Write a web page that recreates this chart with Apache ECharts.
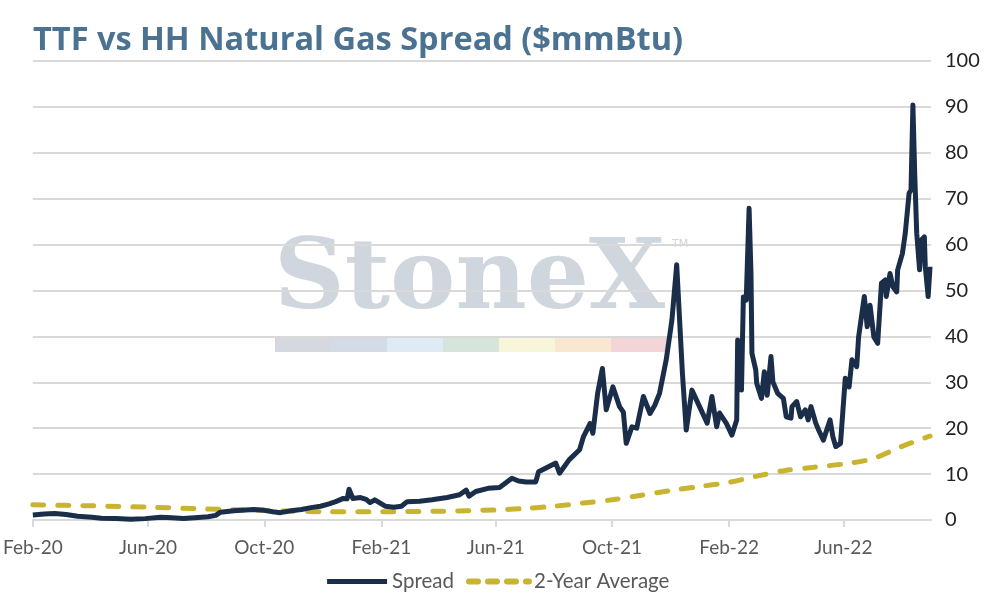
<!DOCTYPE html>
<html>
<head>
<meta charset="utf-8">
<script src="https://cdn.jsdelivr.net/npm/echarts@6/dist/echarts.min.js"></script>
<style>
html,body{margin:0;padding:0;background:#fff;}
#chart{width:994px;height:600px;}
</style>
</head>
<body>
<div id="chart"></div>
<script>
var titleText = 'TTF vs HH Natural Gas Spread ($mmBtu)';
var seriesNames = ['Spread', '2-Year Average'];
var xTickDates = ['2020-02-01','2020-06-01','2020-10-01','2021-02-01','2021-06-01','2021-10-01','2022-02-01','2022-06-01'];
var xTickLabels = ['Feb-20','Jun-20','Oct-20','Feb-21','Jun-21','Oct-21','Feb-22','Jun-22'];
var yTicks = [0,10,20,30,40,50,60,70,80,90,100];

var spreadData = [
['2020-02-01',1.1],['2020-02-13',1.3],['2020-02-24',1.4],['2020-03-07',1.2],['2020-03-19',0.8],
['2020-04-03',0.6],['2020-04-13',0.4],['2020-04-28',0.3],['2020-05-14',0.15],['2020-05-29',0.3],
['2020-06-14',0.6],['2020-06-26',0.5],['2020-07-08',0.35],['2020-07-20',0.5],['2020-08-03',0.7],
['2020-08-11',1.0],['2020-08-16',1.7],['2020-08-30',2.0],['2020-09-07',2.1],['2020-09-20',2.3],
['2020-10-01',2.1],['2020-10-10',1.8],['2020-10-18',1.6],['2020-10-29',2.0],['2020-11-09',2.3],
['2020-11-19',2.7],['2020-11-29',3.0],['2020-12-08',3.5],['2020-12-15',4.0],['2020-12-23',4.7],
['2020-12-27',4.6],['2020-12-29',6.7],['2021-01-02',4.7],['2021-01-10',4.9],['2021-01-16',4.5],
['2021-01-20',3.8],['2021-01-25',4.4],['2021-02-05',3.0],['2021-02-14',2.8],['2021-02-22',3.0],
['2021-02-28',4.0],['2021-03-13',4.1],['2021-03-26',4.4],['2021-04-11',4.9],['2021-04-24',5.5],
['2021-05-01',6.5],['2021-05-04',5.2],['2021-05-11',6.2],['2021-05-24',6.9],['2021-06-05',7.1],
['2021-06-18',9.1],['2021-06-25',8.5],['2021-07-03',8.3],['2021-07-13',8.3],['2021-07-16',10.5],
['2021-07-30',12.0],['2021-08-03',12.4],['2021-08-07',10.2],['2021-08-17',13.1],['2021-08-28',15.3],
['2021-09-01',18.1],['2021-09-08',21.0],['2021-09-11',18.9],['2021-09-16',27.6],['2021-09-21',33.0],
['2021-09-25',24.0],['2021-10-02',29.0],['2021-10-09',24.7],['2021-10-13',23.5],['2021-10-16',16.7],
['2021-10-22',20.3],['2021-10-27',20.0],['2021-11-03',26.9],['2021-11-10',23.2],['2021-11-15',25.0],
['2021-11-20',27.6],['2021-11-27',34.9],['2021-12-03',43.6],['2021-12-08',55.6],['2021-12-14',32.0],
['2021-12-18',19.6],['2021-12-24',28.3],['2022-01-01',24.7],['2022-01-09',21.1],['2022-01-14',26.9],
['2022-01-19',20.3],['2022-01-22',23.3],['2022-01-29',21.1],['2022-02-04',18.5],['2022-02-09',21.8],
['2022-02-10',39.2],['2022-02-14',28.3],['2022-02-16',48.6],['2022-02-19',47.9],['2022-02-22',67.9],
['2022-02-24',53.7],['2022-02-25',36.3],['2022-03-01',32.7],['2022-03-02',29.8],['2022-03-07',26.5],
['2022-03-10',32.3],['2022-03-13',27.2],['2022-03-17',35.6],['2022-03-19',30.1],['2022-03-24',27.6],
['2022-03-30',26.5],['2022-04-02',22.5],['2022-04-07',22.2],['2022-04-08',24.7],['2022-04-13',25.8],
['2022-04-17',22.5],['2022-04-22',24.0],['2022-04-25',21.8],['2022-04-28',24.7],['2022-05-03',21.1],
['2022-05-06',19.6],['2022-05-11',17.4],['2022-05-18',21.8],['2022-05-21',18.1],['2022-05-24',16.0],
['2022-05-29',16.7],['2022-06-03',30.9],['2022-06-07',29.0],['2022-06-10',34.9],['2022-06-15',33.4],
['2022-06-17',39.9],['2022-06-20',44.3],['2022-06-23',48.7],['2022-06-26',42.1],['2022-06-29',46.8],
['2022-07-03',39.9],['2022-07-07',38.5],['2022-07-11',51.6],['2022-07-15',52.3],['2022-07-16',48.7],
['2022-07-20',53.7],['2022-07-23',50.8],['2022-07-27',49.7],['2022-07-28',54.5],['2022-08-02',58.1],
['2022-08-05',62.5],['2022-08-09',71.2],['2022-08-11',71.9],['2022-08-13',90.4],['2022-08-15',74.8],
['2022-08-17',62.5],['2022-08-20',54.5],['2022-08-22',61.0],['2022-08-25',61.7],['2022-08-26',55.2],
['2022-08-29',48.7],['2022-08-31',55.2]
];

var avgData = [
['2020-02-01',3.3],['2020-04-01',3.1],['2020-06-01',2.8],['2020-08-01',2.4],['2020-10-01',2.1],
['2020-12-01',1.8],['2021-02-01',1.8],['2021-04-01',1.9],['2021-06-01',2.2],['2021-07-01',2.5],
['2021-08-01',3.0],['2021-09-01',3.7],['2021-10-01',4.4],['2021-11-01',5.4],['2021-12-01',6.4],
['2022-01-01',7.3],['2022-02-01',8.2],['2022-03-01',9.5],['2022-04-01',10.8],['2022-05-01',11.5],
['2022-06-01',12.2],['2022-07-01',13.3],['2022-08-01',16.0],['2022-08-31',18.3]
];

function toTime(s){ return Date.UTC(+s.slice(0,4), +s.slice(5,7)-1, +s.slice(8,10)); }
var tickTimes = xTickDates.map(toTime);
function conv(arr){ return arr.map(function(p){ return [toTime(p[0]), p[1]]; }); }

var chart = echarts.init(document.getElementById('chart'));
var stripColors = ['#d5d9df','#d3dce6','#deeaf4','#d6e5dc','#f8f6d9','#f9e8cf','#f3d5d7'];
var graphics = [
  {type:'text', left:274, top:234, z:-10, silent:true,
   style:{text:'StoneX', font:'bold 98px "DejaVu Serif"', fill:'#d0d6de'}},
  {type:'text', left:672, top:239, z:-10, silent:true,
   style:{text:'TM', font:'11px "DejaVu Sans"', fill:'#d0d6dd'}}
];
for (var i=0;i<stripColors.length;i++){
  graphics.push({type:'rect', z:-10, silent:true,
    shape:{x:275+i*56, y:338, width:56, height:14}, style:{fill:stripColors[i]}});
}

chart.setOption({
  animation:false,
  backgroundColor:'#fff',
  title:{text:titleText, left:28, top:19,
    textStyle:{fontFamily:'Open Sans', fontWeight:'bold', fontSize:32.5, color:'#4b7391'}},
  graphic: graphics,
  grid:{left:30, right:63, top:61, bottom:80, containLabel:false},
  legend:{bottom:3, left:'center', itemWidth:60, itemHeight:14, itemGap:12,
    itemStyle:{opacity:0},
    textStyle:{fontFamily:'Lato', fontSize:20.5, color:'#595959'},
    data:[
      {name:seriesNames[0], lineStyle:{width:5}},
      {name:seriesNames[1], lineStyle:{width:6, type:[9,10], cap:'round'}}
    ]},
  xAxis:{type:'value', min:toTime('2020-02-01'), max:toTime('2022-09-01'),
    axisLine:{lineStyle:{color:'#d9d9d9', width:2}},
    axisTick:{show:true, customValues:tickTimes, length:7, lineStyle:{color:'#d9d9d9', width:2}},
    axisLabel:{customValues:tickTimes, margin:18, fontFamily:'Lato', fontSize:19, color:'#595959',
      formatter:function(v){ var best=0; for(var k=0;k<tickTimes.length;k++){ if(Math.abs(tickTimes[k]-v)<Math.abs(tickTimes[best]-v)) best=k; } return xTickLabels[best]; }},
    splitLine:{show:false}},
  yAxis:{type:'value', position:'right', min:yTicks[0], max:yTicks[yTicks.length-1], interval:10,
    axisLine:{show:false}, axisTick:{show:false},
    axisLabel:{margin:14, fontFamily:'Lato', fontSize:20, color:'#222'},
    splitLine:{lineStyle:{color:'#d9d9d9', width:2}}},
  series:[
    {name:seriesNames[0], type:'line', data:conv(spreadData), showSymbol:false, symbol:'none', z:3,
      lineStyle:{color:'#1a2e4a', width:5, join:'round'}, itemStyle:{color:'#1a2e4a'}},
    {name:seriesNames[1], type:'line', data:conv(avgData), showSymbol:false, symbol:'none', smooth:0.3, z:2,
      lineStyle:{color:'#c8b42e', width:5, type:[11,14], cap:'round'}, itemStyle:{color:'#c8b42e'}}
  ]
});
</script>
</body>
</html>
